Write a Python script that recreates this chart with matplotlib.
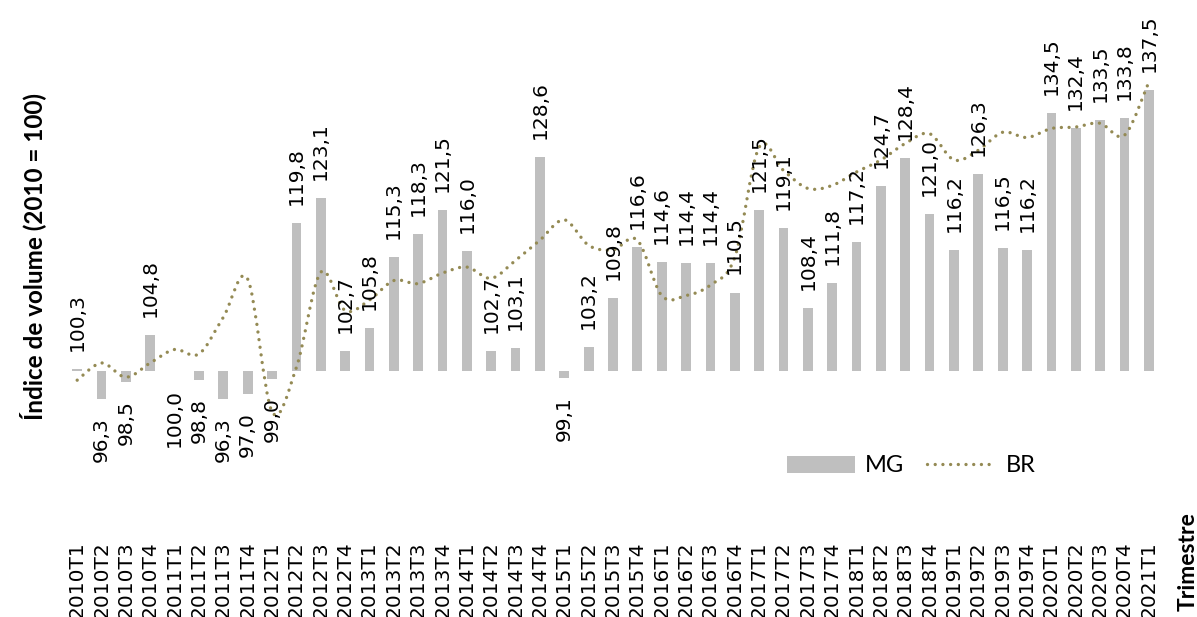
import numpy as np
import matplotlib
matplotlib.use("Agg")
import matplotlib.pyplot as plt
from matplotlib.path import Path
from matplotlib.patches import PathPatch, Patch
from matplotlib.lines import Line2D

# quarters 2010T1 .. 2021T1
quarters = [f"{y}T{q}" for y in range(2010, 2021) for q in range(1, 5)] + ["2021T1"]

mg = [100.3, 96.3, 98.5, 104.8, 100.0, 98.8, 96.3, 97.0, 99.0, 119.8, 123.1, 102.7,
      105.8, 115.3, 118.3, 121.5, 116.0, 102.7, 103.1, 128.6, 99.1, 103.2, 109.8, 116.6,
      114.6, 114.4, 114.4, 110.5, 121.5, 119.1, 108.4, 111.8, 117.2, 124.7, 128.4, 121.0,
      116.2, 126.3, 116.5, 116.2, 134.5, 132.4, 133.5, 133.8, 137.5]

br = [98.8, 101.1, 99.2, 101.1, 102.9, 102.3, 107.2, 112.3, 94.6, 100.5, 113.2, 108.1,
      109.5, 112.1, 111.7, 113.1, 113.9, 112.4, 114.8, 117.5, 120.2, 116.8, 116.2, 117.5,
      110.1, 110.1, 111.5, 115.2, 129.9, 126.8, 124.4, 124.8, 126.6, 128.2, 130.4, 131.7,
      128.2, 129.5, 131.9, 131.2, 132.4, 132.6, 133.1, 131.5, 138.6]

bar_color = "#BFBFBF"
line_color = "#948A54"
base = 100


def smooth_path(xs, ys):
    # Excel-like smoothed line drawn as cubic bezier segments through the points
    pts = np.column_stack([xs, ys]).astype(float)
    verts = [pts[0]]
    codes = [Path.MOVETO]
    n = len(pts)
    for i in range(n - 1):
        p0 = pts[i - 1] if i > 0 else pts[i]
        p1 = pts[i]
        p2 = pts[i + 1]
        p3 = pts[i + 2] if i + 2 < n else pts[i + 1]
        c1 = p1 + (p2 - p0) / 6.0
        c2 = p2 - (p3 - p1) / 6.0
        verts += [c1, c2, p2]
        codes += [Path.CURVE4] * 3
    return Path(verts, codes)


fig = plt.figure(figsize=(11.97, 6.17), dpi=100)
ax = fig.add_axes([65 / 1197, 0.141, (1161 - 65) / 1197, 0.794])

x = np.arange(len(quarters))
heights = np.array(mg) - base
ax.bar(x, heights, bottom=base, width=0.4, color=bar_color, zorder=2)

patch = PathPatch(smooth_path(x, br), fill=False, edgecolor=line_color, lw=2.4,
                  linestyle=(0, (0.01, 2.3)), capstyle="round", zorder=3)
ax.add_patch(patch)

for i, v in enumerate(mg):
    lbl = f"{v:.1f}".replace(".", ",")
    if v > base:
        ax.annotate(lbl, (i, v), xytext=(0, 13), textcoords="offset points",
                    rotation=90, ha="center", va="bottom", fontsize=14.5, zorder=4)
    else:
        ax.annotate(lbl, (i, v), xytext=(0, -13), textcoords="offset points",
                    rotation=90, ha="center", va="top", fontsize=14.5, zorder=4)

ax.set_xlim(-0.5, len(quarters) - 0.5)
ax.set_ylim(78.8, 144.2)
ax.set_xticks(x)
ax.set_xticklabels(quarters, rotation=90, fontsize=14.5)
ax.tick_params(axis="x", length=0, pad=8)
ax.set_yticks([])
for s in ax.spines.values():
    s.set_visible(False)

fig.text(33 / 1197, 1 - 256 / 617, "Índice de volume (2010 = 100)", rotation=90,
         ha="center", va="center", fontsize=17.5, fontweight="bold", family="Lato")
fig.text(1188 / 1197, 1 - 512 / 617, "Trimestre", rotation=90, ha="center", va="top",
         fontsize=16.5, fontweight="bold", family="Lato")

handles = [Patch(facecolor=bar_color, edgecolor="none"),
           Line2D([], [], color=line_color, lw=2.4, linestyle=(0, (0.01, 2.3)),
                  dash_capstyle="round")]
fig.legend(handles, ["MG", "BR"], ncol=2, loc="center", bbox_to_anchor=(911 / 1197, 1 - 466 / 617),
           frameon=False, prop={"family": "Lato", "size": 17}, handlelength=2.9,
           columnspacing=1.0, handletextpad=0.4)

fig.savefig("out.png", dpi=100)
